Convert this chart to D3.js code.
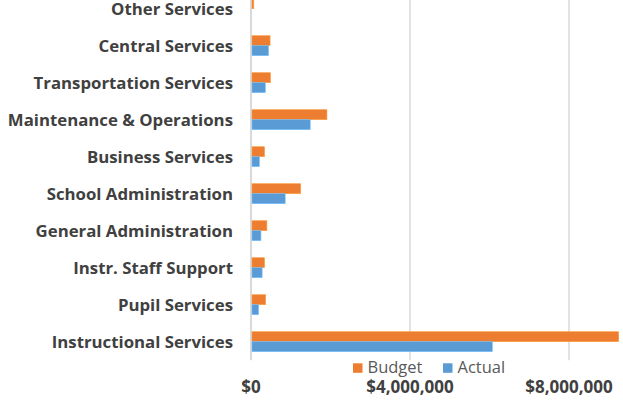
<!DOCTYPE html>
<html>
<head>
<meta charset="utf-8">
<script src="https://cdn.jsdelivr.net/npm/d3@7"></script>
<style>
  html, body { margin: 0; padding: 0; background: #fff; }
  svg { display: block; }
</style>
</head>
<body>
<svg id="chart" width="623" height="409"></svg>
<script>
// Expenditure categories, listed bottom to top
const categories = [
  "Instructional Services",
  "Pupil Services",
  "Instr. Staff Support",
  "General Administration",
  "School Administration",
  "Business Services",
  "Maintenance & Operations",
  "Transportation Services",
  "Central Services",
  "Other Services"
];
const budget = [9250000, 370000, 340000, 400000, 1250000, 340000, 1910000, 490000, 480000, 70000];
const actual = [6070000, 190000, 280000, 250000, 860000, 210000, 1490000, 360000, 440000, 0];
const seriesNames = ["Budget", "Actual"];
const seriesColors = ["#ED7D31", "#5B9BD5"];
const tickValues = [0, 4000000, 8000000];
const tickLabels = ["$0", "$4,000,000", "$8,000,000"];

const svg = d3.select("#chart");
const font = "'Open Sans', sans-serif";

const plot = { left: 251, right: 620, top: -9.8, bottom: 360.2 };

const x = d3.scaleLinear().domain([0, 8000000]).range([plot.left, 569]);
const y = d3.scaleBand()
  .domain(categories)
  .range([plot.bottom, plot.top])
  .paddingInner(0.46)
  .paddingOuter(0.23);
const ySub = d3.scaleBand().domain(seriesNames).range([0, y.bandwidth()]);

svg.append("defs").append("clipPath").attr("id", "plotClip")
  .append("rect")
  .attr("x", plot.left).attr("y", 0)
  .attr("width", plot.right - plot.left).attr("height", plot.bottom);

// vertical gridlines
svg.append("g").selectAll("line")
  .data(tickValues)
  .join("line")
  .attr("x1", d => x(d)).attr("x2", d => x(d))
  .attr("y1", 0).attr("y2", plot.bottom)
  .attr("stroke", "#d9d9d9")
  .attr("stroke-width", (d, i) => i === 0 ? 2 : 1.5);

// bars
const rows = categories.map((c, i) => ({ cat: c, values: [budget[i], actual[i]] }));
const groups = svg.append("g").attr("clip-path", "url(#plotClip)")
  .selectAll("g")
  .data(rows)
  .join("g")
  .attr("transform", d => `translate(0,${y(d.cat)})`);

groups.selectAll("rect")
  .data(d => d.values.map((v, k) => ({ v, k })))
  .join("rect")
  .attr("x", x(0) + 1)
  .attr("y", d => ySub(seriesNames[d.k]))
  .attr("width", d => Math.max(0, x(d.v) - x(0) - 1))
  .attr("height", ySub.bandwidth())
  .attr("fill", d => seriesColors[d.k])
  .attr("stroke", d => d.v > 0 ? d3.color(seriesColors[d.k]).brighter(0.6) : "none")
  .attr("stroke-width", 0.6);

// category labels
svg.append("g").selectAll("text")
  .data(categories)
  .join("text")
  .attr("x", 233)
  .attr("y", d => y(d) + y.bandwidth() / 2 + 5.8)
  .attr("text-anchor", "end")
  .attr("font-family", font)
  .attr("font-weight", "bold")
  .attr("font-size", 16.8)
  .attr("fill", "#404040")
  .text(d => d);

// value axis labels
svg.append("g").selectAll("text")
  .data(tickValues)
  .join("text")
  .attr("x", d => x(d))
  .attr("y", 392.5)
  .attr("text-anchor", "middle")
  .attr("font-family", font)
  .attr("font-weight", "bold")
  .attr("font-size", 17)
  .attr("fill", "#404040")
  .text((d, i) => tickLabels[i]);

// legend
const legendX = [353, 443];
const legend = svg.append("g").selectAll("g")
  .data(seriesNames)
  .join("g")
  .attr("transform", (d, i) => `translate(${legendX[i]},363.3)`);
legend.append("rect")
  .attr("width", 9.5).attr("height", 9.5)
  .attr("fill", (d, i) => seriesColors[i]);
legend.append("text")
  .attr("x", 14.5).attr("y", 9.5)
  .attr("font-family", font)
  .attr("font-size", 16.5)
  .attr("fill", "#595959")
  .text(d => d);
</script>
</body>
</html>
